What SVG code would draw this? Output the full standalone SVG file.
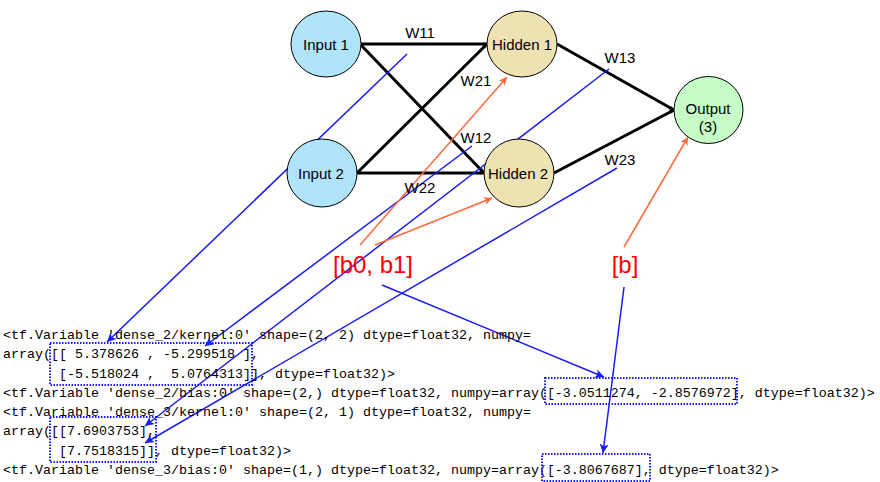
<svg xmlns="http://www.w3.org/2000/svg" width="880" height="482" viewBox="0 0 880 482">
<style>
.node{stroke:#000;stroke-width:1}
.lbl{font-family:"Liberation Sans",Arial,sans-serif;font-size:15px;fill:#000;text-anchor:middle}
.w{font-family:"Liberation Sans",Arial,sans-serif;font-size:15px;fill:#000;text-anchor:middle}
.bias{font-family:"Liberation Sans",Arial,sans-serif;font-size:24px;fill:#ff0000;text-anchor:middle}
.code{font-family:"Liberation Mono","DejaVu Sans Mono",monospace;font-size:13.33px;fill:#000;white-space:pre}
.edge{stroke:#000;stroke-width:3;fill:none}
.blue{stroke:#1a1aff;stroke-width:1.5;fill:none}
.orange{stroke:#ff6a3d;stroke-width:1.5;fill:none}
.box{stroke:#1a1aff;stroke-width:2;fill:none;stroke-dasharray:1.5 1.5}
</style>
<defs>
<marker id="ab" viewBox="0 0 10 10" refX="9" refY="5" markerWidth="5" markerHeight="5" markerUnits="userSpaceOnUse" orient="auto"><path d="M0,1 L10,5 L0,9 Z" fill="#000"/></marker>
<marker id="ablue" viewBox="0 0 10 10" refX="10" refY="5" markerWidth="12" markerHeight="9" markerUnits="userSpaceOnUse" orient="auto"><path d="M0,0 L10,5 L0,10 L2.5,5 Z" fill="#1a1aff"/></marker>
<marker id="aor" viewBox="0 0 10 10" refX="10" refY="5" markerWidth="11" markerHeight="8" markerUnits="userSpaceOnUse" orient="auto"><path d="M0,0 L10,5 L0,10 L2.5,5 Z" fill="#ff6a3d"/></marker>
</defs>

<g id="connectors">
<line class="edge" x1="361" y1="44" x2="487" y2="44" marker-end="url(#ab)"/>
<line class="edge" x1="360" y1="44" x2="484" y2="173" marker-end="url(#ab)"/>
<line class="edge" x1="357" y1="173" x2="487" y2="44" marker-end="url(#ab)"/>
<line class="edge" x1="357" y1="173" x2="484" y2="173" marker-end="url(#ab)"/>
<line class="edge" x1="557" y1="44" x2="674" y2="110" marker-end="url(#ab)"/>
<line class="edge" x1="554" y1="173" x2="674" y2="110" marker-end="url(#ab)"/>

<line class="blue" x1="407" y1="54" x2="107" y2="342" marker-end="url(#ablue)"/>
<line class="blue" x1="472" y1="146" x2="205" y2="346" marker-end="url(#ablue)"/>
<line class="blue" x1="609" y1="69" x2="145" y2="426" marker-end="url(#ablue)"/>
<line class="blue" x1="617" y1="168" x2="145" y2="443" marker-end="url(#ablue)"/>
<line class="blue" x1="382" y1="285" x2="604" y2="377" marker-end="url(#ablue)"/>
<line class="blue" x1="624" y1="287" x2="603" y2="453" marker-end="url(#ablue)"/>

<line class="orange" x1="360" y1="245" x2="507" y2="77" marker-end="url(#aor)"/>
<line class="orange" x1="375" y1="245" x2="492" y2="198" marker-end="url(#aor)"/>
<line class="orange" x1="624" y1="247" x2="688" y2="137" marker-end="url(#aor)"/>
</g>

<g id="input1"><ellipse class="node" cx="326" cy="44" rx="35" ry="33" fill="#b0e4fa"/><text class="lbl" x="326" y="50">Input 1</text></g>
<g id="input2"><ellipse class="node" cx="322" cy="173" rx="35" ry="34" fill="#b0e4fa"/><text class="lbl" x="321" y="179">Input 2</text></g>
<g id="hidden1"><ellipse class="node" cx="522" cy="44" rx="35" ry="33" fill="#eee2b2"/><text class="lbl" x="522" y="50">Hidden 1</text></g>
<g id="hidden2"><ellipse class="node" cx="519" cy="173" rx="35" ry="34" fill="#eee2b2"/><text class="lbl" x="518" y="179">Hidden 2</text></g>
<g id="output"><ellipse class="node" cx="708.5" cy="110" rx="34.5" ry="33.5" fill="#c6fcc6"/><text class="lbl" x="708" y="114">Output</text><text class="lbl" x="708" y="132">(3)</text></g>

<g id="weights">
<text class="w" x="420" y="38">W11</text>
<text class="w" x="476" y="86">W21</text>
<text class="w" x="476" y="143">W12</text>
<text class="w" x="420" y="193">W22</text>
<text class="w" x="620" y="63">W13</text>
<text class="w" x="620" y="165">W23</text>
</g>

<g id="biases">
<text class="bias" x="373" y="273">[b0, b1]</text>
<text class="bias" x="625" y="273">[b]</text>
</g>

<g id="code">
<text class="code" x="3" y="339">&lt;tf.Variable 'dense_2/kernel:0' shape=(2, 2) dtype=float32, numpy=</text>
<text class="code" x="3" y="358">array([[ 5.378626 , -5.299518 ],</text>
<text class="code" x="3" y="377.5">       [-5.518024 ,  5.0764313]], dtype=float32)&gt;</text>
<text class="code" x="3" y="397">&lt;tf.Variable 'dense_2/bias:0' shape=(2,) dtype=float32, numpy=array([-3.0511274, -2.8576972], dtype=float32)&gt;</text>
<text class="code" x="3" y="416">&lt;tf.Variable 'dense_3/kernel:0' shape=(2, 1) dtype=float32, numpy=</text>
<text class="code" x="3" y="435">array([[7.6903753],</text>
<text class="code" x="3" y="454.5">       [7.7518315]], dtype=float32)&gt;</text>
<text class="code" x="3" y="474">&lt;tf.Variable 'dense_3/bias:0' shape=(1,) dtype=float32, numpy=array([-3.8067687], dtype=float32)&gt;</text>
</g>

<g id="boxes">
<rect class="box" x="50" y="343" width="202" height="42"/>
<rect class="box" x="545" y="378" width="192" height="26"/>
<rect class="box" x="50" y="417" width="106" height="45"/>
<rect class="box" x="542" y="454" width="108" height="27"/>
</g>
</svg>
